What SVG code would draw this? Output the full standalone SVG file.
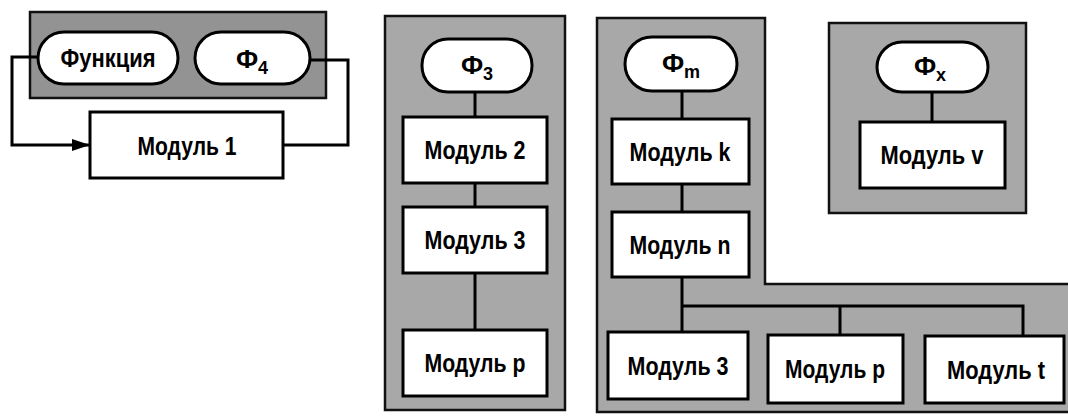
<svg xmlns="http://www.w3.org/2000/svg" width="1068" height="417" viewBox="0 0 1068 417">
<defs>
<style>
.panel{fill:#a8a8a8;stroke:#111;stroke-width:2.5}
.panel-dark{fill:#939393;stroke:#111;stroke-width:2.5}
.pill{fill:#fff;stroke:#000;stroke-width:3}
.box{fill:#fff;stroke:#000;stroke-width:3}
.line{fill:none;stroke:#000;stroke-width:3}
.t{font-family:"Liberation Sans",Arial,sans-serif;font-weight:bold;font-size:26px;fill:#000;text-anchor:middle}
.sub{font-size:18px}
</style>
<marker id="arr" viewBox="0 0 18 12" refX="18" refY="6" markerWidth="18" markerHeight="12" markerUnits="userSpaceOnUse" orient="auto">
<path d="M0,0 L18,6 L0,12 Z" fill="#000"/>
</marker>
</defs>
<rect width="1068" height="417" fill="#fff"/>

<g id="panels">
<rect class="panel-dark" x="30" y="12" width="296" height="86"/>
<rect class="panel" x="385" y="16" width="180" height="394"/>
<path class="panel" d="M597,18 H765 V284 H1070 V412 H597 Z"/>
<rect class="panel" x="829" y="23" width="197" height="190"/>
</g>

<g id="connectors">
<path class="line" d="M40,57 H12 V145 H90" marker-end="url(#arr)"/>
<path class="line" d="M308,60 H348 V145 H283"/>
<path class="line" d="M475,92 V330"/>
<path class="line" d="M682,91 V332"/>
<path class="line" d="M682,306 H1023 V336"/>
<path class="line" d="M840,306 V335"/>
<path class="line" d="M932,92 V122"/>
</g>

<g id="func">
<rect class="pill" x="38" y="32" width="140" height="52" rx="26"/>
<text class="t" x="108" y="67" textLength="95" lengthAdjust="spacingAndGlyphs">Функция</text>
</g>
<g id="f4">
<rect class="pill" x="195" y="32" width="115" height="52" rx="26"/>
<text class="t" x="252" y="68">Ф<tspan class="sub" dy="6">4</tspan></text>
</g>
<g id="modul1">
<rect class="box" x="90" y="112" width="193" height="66"/>
<text class="t" x="187" y="155" textLength="99" lengthAdjust="spacingAndGlyphs">Модуль 1</text>
</g>

<g id="f3">
<rect class="pill" x="422" y="39" width="110" height="53" rx="26"/>
<text class="t" x="477" y="74">Ф<tspan class="sub" dy="6">3</tspan></text>
</g>
<g id="modul2">
<rect class="box" x="403" y="117" width="144" height="66"/>
<text class="t" x="475" y="159" textLength="101" lengthAdjust="spacingAndGlyphs">Модуль 2</text>
</g>
<g id="modul3a">
<rect class="box" x="403" y="207" width="144" height="66"/>
<text class="t" x="475" y="249" textLength="101" lengthAdjust="spacingAndGlyphs">Модуль 3</text>
</g>
<g id="modulpa">
<rect class="box" x="403" y="330" width="144" height="66"/>
<text class="t" x="475" y="372" textLength="101" lengthAdjust="spacingAndGlyphs">Модуль р</text>
</g>

<g id="fm">
<rect class="pill" x="625" y="37" width="112" height="54" rx="27"/>
<text class="t" x="681" y="72">Ф<tspan class="sub" dy="6">m</tspan></text>
</g>
<g id="modulk">
<rect class="box" x="612" y="119" width="137" height="65"/>
<text class="t" x="680" y="161" textLength="101" lengthAdjust="spacingAndGlyphs">Модуль k</text>
</g>
<g id="moduln">
<rect class="box" x="612" y="212" width="137" height="65"/>
<text class="t" x="680" y="254" textLength="101" lengthAdjust="spacingAndGlyphs">Модуль n</text>
</g>
<g id="modul3b">
<rect class="box" x="608" y="332" width="140" height="67"/>
<text class="t" x="678" y="375" textLength="101" lengthAdjust="spacingAndGlyphs">Модуль 3</text>
</g>
<g id="modulpb">
<rect class="box" x="768" y="335" width="135" height="68"/>
<text class="t" x="835" y="378" textLength="100" lengthAdjust="spacingAndGlyphs">Модуль р</text>
</g>
<g id="modult">
<rect class="box" x="925" y="336" width="139" height="67"/>
<text class="t" x="996" y="379" textLength="98" lengthAdjust="spacingAndGlyphs">Модуль t</text>
</g>

<g id="fx">
<rect class="pill" x="877" y="42" width="111" height="50" rx="25"/>
<text class="t" x="930" y="75">Ф<tspan class="sub" dy="6">x</tspan></text>
</g>
<g id="modulv">
<rect class="box" x="860" y="122" width="145" height="66"/>
<text class="t" x="932" y="164" textLength="103" lengthAdjust="spacingAndGlyphs">Модуль v</text>
</g>
</svg>
